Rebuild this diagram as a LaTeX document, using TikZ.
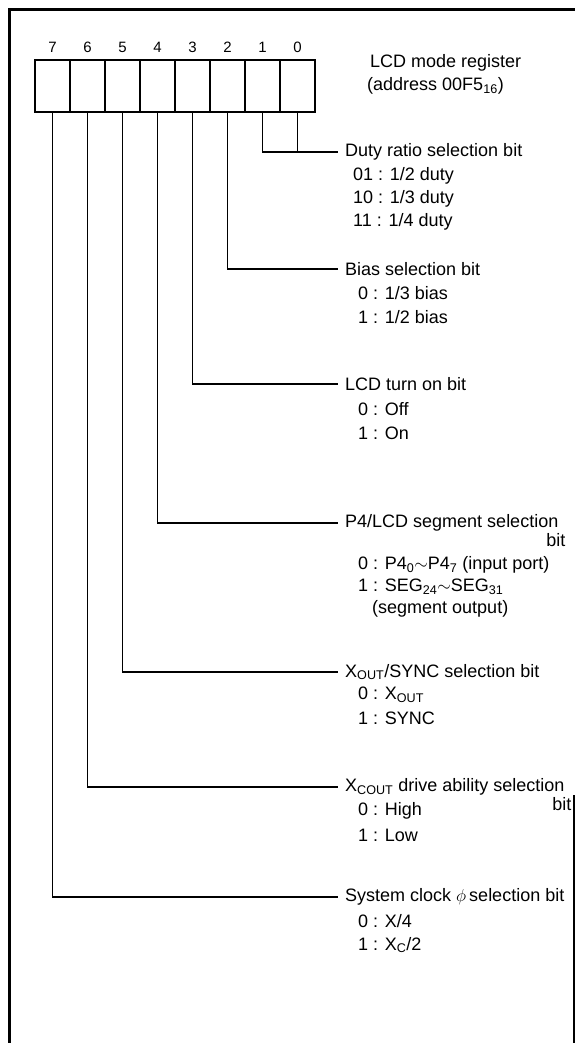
\documentclass[tikz,border=0pt]{standalone}
\usepackage{fontspec}
\setmainfont{Liberation Sans}
\usetikzlibrary{positioning}

\begin{document}
\begin{tikzpicture}[x=1pt, y=-1pt,
    every node/.style={font=\fontsize{18}{21}\selectfont},
    regbox/.style={draw, line width=2.6pt, minimum width=35pt, minimum height=52pt, inner sep=0pt},
    bitno/.style={font=\fontsize{15}{18}\selectfont, inner sep=0pt},
    wire/.style={line width=1.4pt},
    frame/.style={line width=3pt},
    head/.style={anchor=west, inner xsep=7pt, inner ysep=0pt},
    opt/.style={anchor=west, inner sep=0pt}]
    \useasboundingbox (0,0) rectangle (575,1043);
    % Frame:
    \draw[frame] (9,1043) -- (9,10) -- (575,10);
    \draw[line width=1.5pt] (574,795) -- (574,1043);
    % Register cells and bit numbers:
    \foreach \b in {0,...,7} {
        \node[regbox] (b\b) at ({297.5-35*\b}, 86) {};
        \node[bitno] (n\b) at ({297.5-35*\b}, 47) {\b};
    }
    \node[opt] (reg) at (370, 63) {LCD mode register};
    \node[opt] (addr) at (367, 86) {(address 00F5\textsubscript{16})};
    % Bits 1 and 0:
    \node[head] (duty) at (338, 152) {Duty ratio selection bit};
    \node[opt] (duty1) at (353, 176) {01 : 1/2 duty};
    \node[opt] (duty2) at (353, 199) {10 : 1/3 duty};
    \node[opt] (duty3) at (353, 222) {11 : 1/4 duty};
    \draw[wire] (b1.south) |- (duty.west);
    \draw[wire] (b0.south) -- (b0.south |- duty.west);
    % Bit 2:
    \node[head] (bias) at (338, 269) {Bias selection bit};
    \node[opt] (bias1) at (358, 293) {0 : 1/3 bias};
    \node[opt] (bias2) at (358, 317) {1 : 1/2 bias};
    \draw[wire] (b2.south) |- (bias.west);
    % Bit 3:
    \node[head] (lcdon) at (338, 384) {LCD turn on bit};
    \node[opt] (lcdon1) at (358, 409) {0 : Off};
    \node[opt] (lcdon2) at (358, 433) {1 : On};
    \draw[wire] (b3.south) |- (lcdon.west);
    % Bit 4:
    \node[head] (seg) at (338, 523) {P4/LCD segment selection};
    \node[opt, anchor=north east] (segbit) at ([yshift=-2pt]seg.south east) {bit};
    \node[opt] (seg1) at (358, 565) {0 : P4\textsubscript{0}$\sim$P4\textsubscript{7} (input port)};
    \node[opt] (seg2) at (358, 587) {1 : SEG\textsubscript{24}$\sim$SEG\textsubscript{31}};
    \node[opt] (seg3) at (372, 609) {(segment output)};
    \draw[wire] (b4.south) |- (seg.west);
    % Bit 5:
    \node[head] (xout) at (338, 672) {X\textsubscript{OUT}/SYNC selection bit};
    \node[opt] (xout1) at (358, 695) {0 : X\textsubscript{OUT}};
    \node[opt] (xout2) at (358, 718) {1 : SYNC};
    \draw[wire] (b5.south) |- (xout.west);
    % Bit 6:
    \node[head] (xcout) at (338, 787) {X\textsubscript{COUT} drive ability selection};
    \node[opt, anchor=north east] (xcoutbit) at ([yshift=-2pt]xcout.south east) {bit};
    \node[opt] (xcout1) at (358, 811) {0 : High};
    \node[opt] (xcout2) at (358, 835) {1 : Low};
    \draw[wire] (b6.south) |- (xcout.west);
    % Bit 7:
    \node[head] (clk) at (338, 897) {System clock $\phi$\,selection bit};
    \node[opt] (clk1) at (358, 921) {0 : X/4};
    \node[opt] (clk2) at (358, 945) {1 : X\textsubscript{C}/2};
    \draw[wire] (b7.south) |- (clk.west);
\end{tikzpicture}
\end{document}
